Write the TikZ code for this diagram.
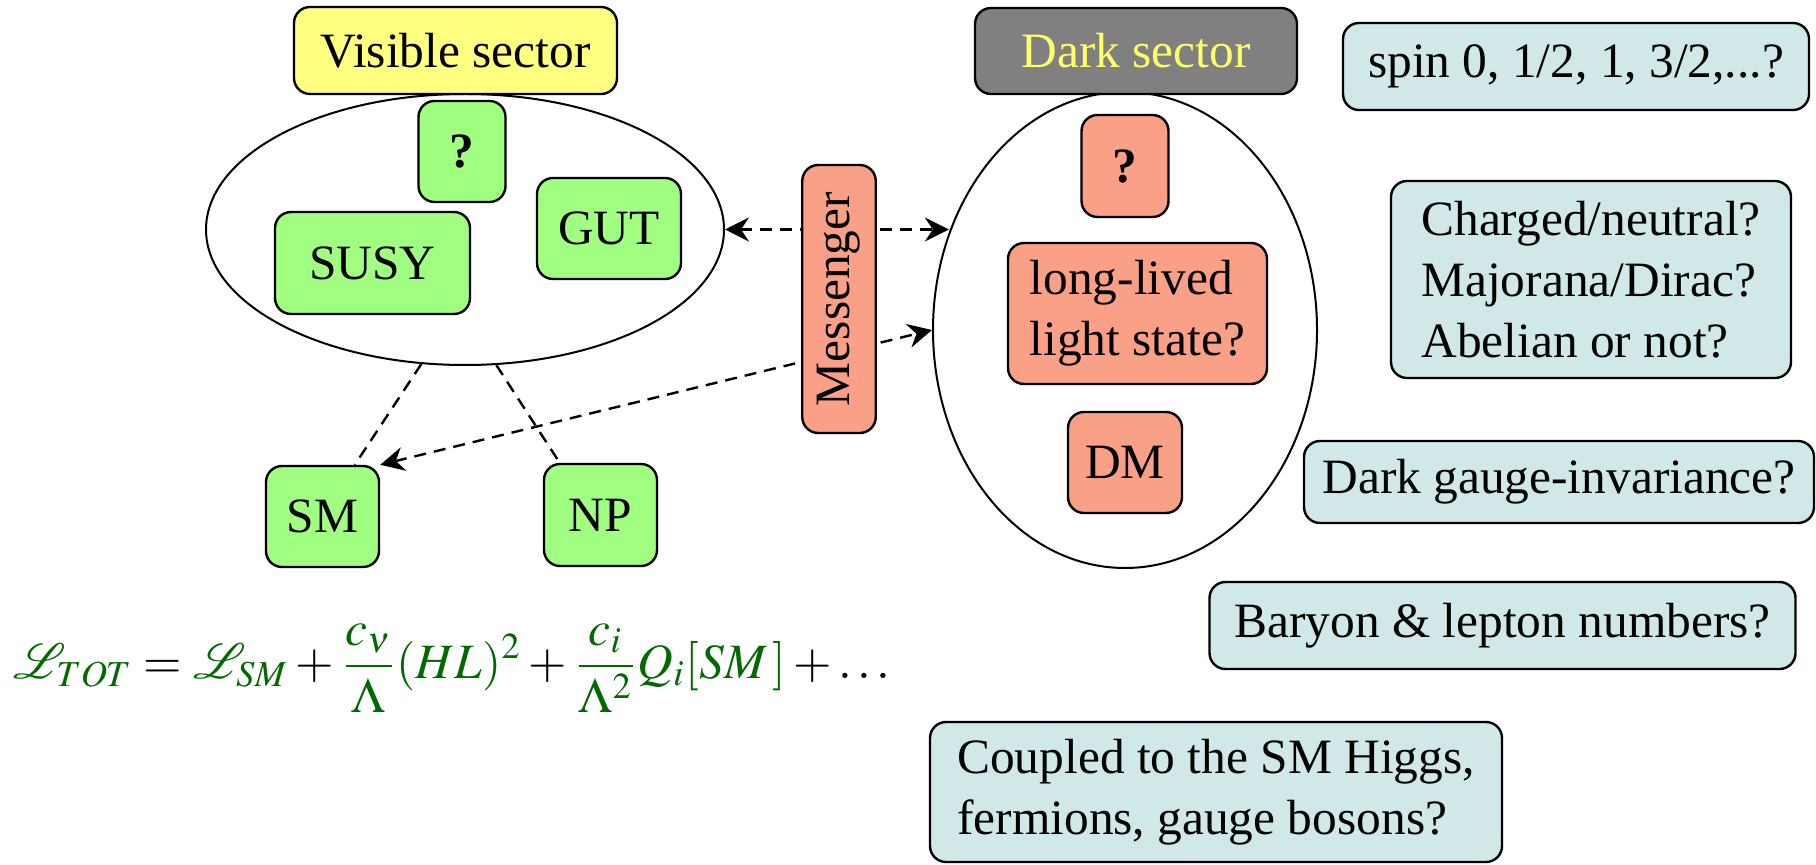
\documentclass[tikz,border=0pt]{standalone}
\usepackage{mathptmx}
\usepackage{fontspec}
\setmainfont{Liberation Serif}
\usetikzlibrary{shapes.geometric,arrows.meta}
\pgfdeclarelayer{bg}
\pgfsetlayers{bg,main}
\definecolor{boxgreen}{HTML}{A0FF80}
\definecolor{boxsalmon}{HTML}{F9A086}
\definecolor{boxcyan}{HTML}{D0E8E8}
\definecolor{boxyellow}{HTML}{FFFF80}
\definecolor{boxgray}{HTML}{808080}
\definecolor{darktext}{HTML}{FFFF66}
\definecolor{eqgreen}{HTML}{006A00}
\newcommand\myfs{\fontsize{12.35}{15.3}\selectfont}
\newcommand\eqg[1]{{\color{eqgreen}#1}}
\begin{document}
\begin{tikzpicture}[x=0.25pt,y=-0.25pt,
  box/.style={draw, line width=0.6pt, rounded corners=4pt, inner sep=0pt, align=left, font=\myfs},
  sz/.style 2 args={minimum width=#1*0.25pt, minimum height=#2*0.25pt},
  gbox/.style={box, fill=boxgreen},
  sbox/.style={box, fill=boxsalmon},
  cbox/.style={box, fill=boxcyan},
  sector/.style={draw, line width=0.5pt, ellipse, inner sep=0pt},
  dsh/.style={dash pattern=on 3pt off 2pt, line width=0.6pt},
  dbl/.style={dsh, {Stealth[length=6pt,width=6pt,inset=2pt]}-{Stealth[length=6pt,width=6pt,inset=2pt]}}]
\useasboundingbox (0,0) rectangle (1816,865);
% sectors
\begin{pgfonlayer}{bg}
\node[sector, sz={518}{271}] (vis) at (465,229.5) {};
\node[sector, sz={384}{476}] (dark) at (1125,330) {};
\end{pgfonlayer}
% visible sector
\node[box, fill=boxyellow, sz={323}{87}] (vislabel) at (455.5,50.5) {Visible sector};
\node[gbox, sz={87}{101}] (visq) at (462,151.5) {\textbf{?}};
\node[gbox, sz={144}{101}] (gut) at (609,228.5) {GUT};
\node[gbox, sz={195}{102}] (susy) at (372.5,263) {SUSY};
\node[gbox, sz={113}{101}] (sm) at (322.5,516.5) {SM};
\node[gbox, sz={113}{102}] (np) at (600.5,515) {NP};
% messenger
\node[sbox, rotate=90, sz={268}{73.5}] (msg) at (839,299) {Messenger};
% dark sector
\node[box, fill=boxgray, text=darktext, sz={322}{86}] (darklabel) at (1136,51) {Dark sector};
\node[sbox, sz={87}{102}] (darkq) at (1125,166) {\textbf{?}};
\node[sbox, sz={259}{141}] (llived) at (1137.5,313.5) {long-lived\\light state?};
\node[sbox, sz={114}{101}] (dm) at (1125,462.5) {DM};
% questions
\node[cbox, sz={466}{87}] (spin) at (1576,66.5) {spin 0, 1/2, 1, 3/2,...?};
\node[cbox, sz={400}{197}] (charged) at (1591,279.5) {Charged/neutral?\\Majorana/Dirac?\\Abelian or not?};
\node[cbox, sz={510}{82}] (gauge) at (1559,482) {Dark gauge-invariance?};
\node[cbox, sz={586}{87}] (baryon) at (1502.5,625.5) {Baryon \& lepton numbers?};
\node[cbox, sz={572}{140}] (coupled) at (1216,792) {Coupled to the SM Higgs,\\fermions, gauge bosons?};
% equation
\node[font=\myfs, inner sep=0pt] (eq) at (452,668) {$\displaystyle
  \eqg{\mathcal{L}_{TOT}} = \eqg{\mathcal{L}_{SM}} +
  \eqg{\frac{c_\nu}{\Lambda}(HL)^2} +
  \eqg{\frac{c_i}{\Lambda^2}Q_i[SM\,]} + \ldots$};
% connectors
\begin{pgfonlayer}{bg}
\draw[dbl] (vis.east) -- (vis.east -| dark.151);
\draw[dbl] (sm.north east) -- (dark.west);
\draw[dsh] (vis.252) -- (sm.58);
\draw[dsh] (vis.283) -- (np.128);
\end{pgfonlayer}
\end{tikzpicture}
\end{document}
